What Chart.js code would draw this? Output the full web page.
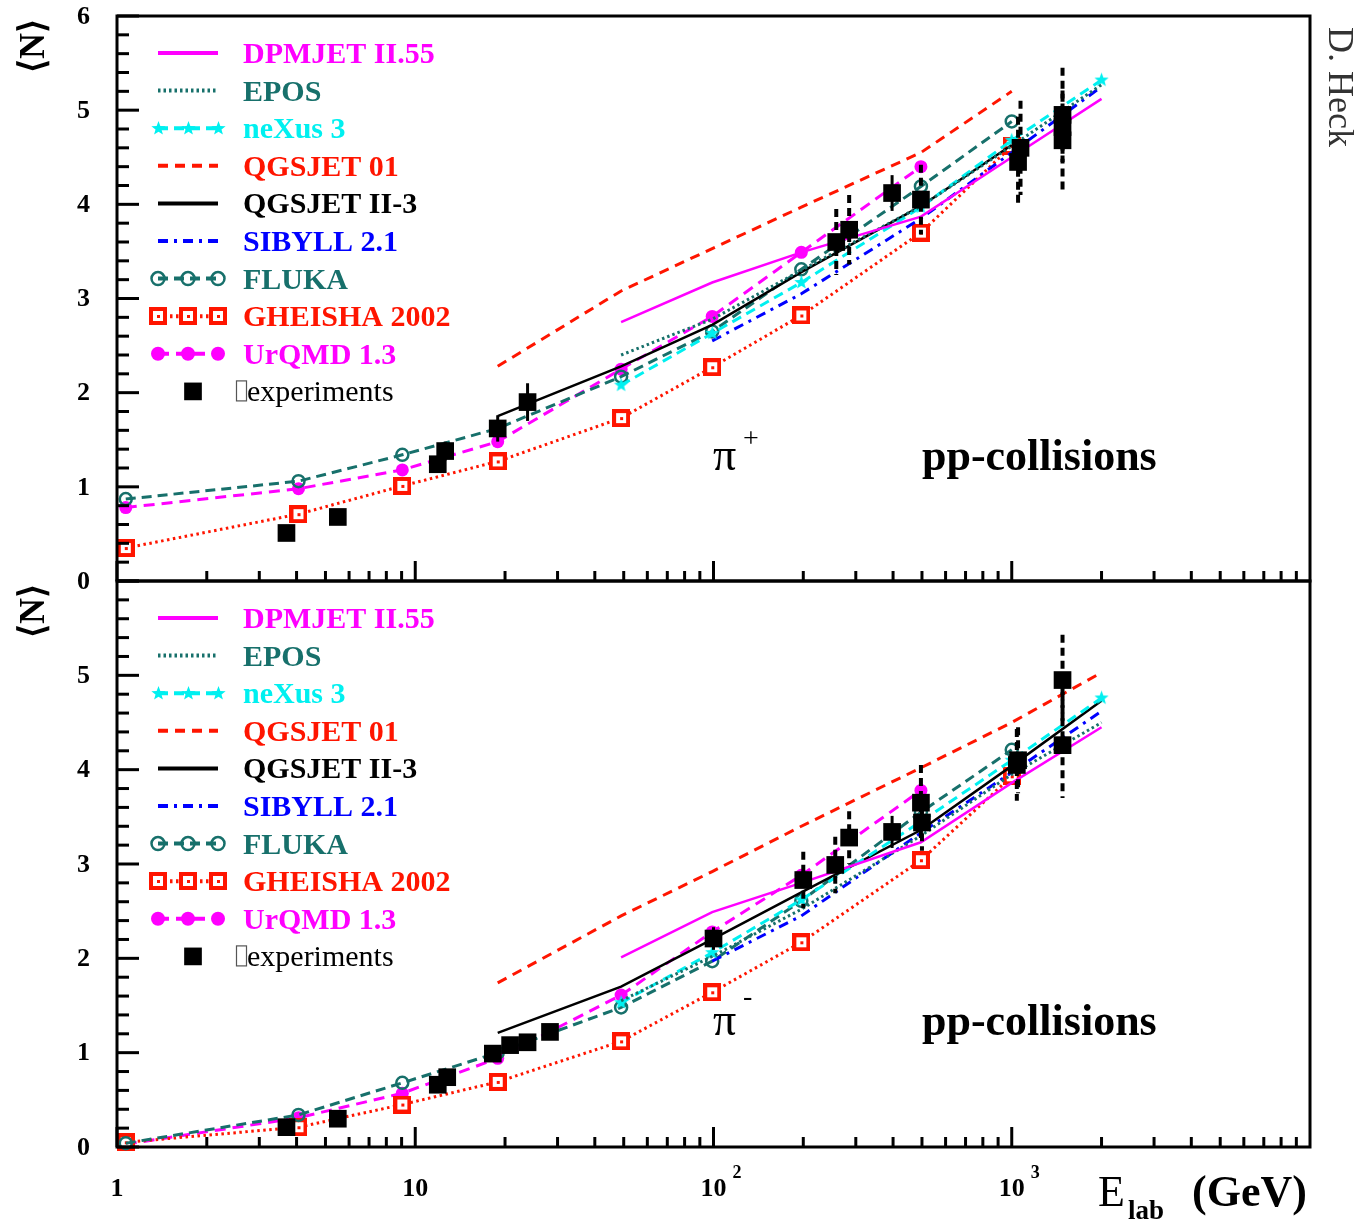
<!DOCTYPE html>
<html>
<head>
<meta charset="utf-8">
<script src="https://cdn.jsdelivr.net/npm/chart.js@4.4.1/dist/chart.umd.min.js"></script>
<style>
  html, body { margin: 0; padding: 0; background: #fff; }
  #wrap { position: relative; width: 1354px; height: 1221px; }
  #wrap canvas { position: absolute; left: 0; top: 0; }
</style>
</head>
<body>
<div id="wrap">
  <canvas id="cPlus" width="1354" height="1221"></canvas>
  <canvas id="cMinus" width="1354" height="1221"></canvas>
</div>
<script>
// ---- lab energies (GeV) at which the model curves are evaluated ----
const energies = [1.07, 4.06, 9.05, 18.9, 49, 99, 197, 496, 1000, 2000];

// ---- mean pi+ multiplicity per model ----
const piPlusDPMJET   = [null, null, null, null, 2.75, 3.17, 3.49, 3.87, 4.50, 5.12];
const piPlusEPOS     = [null, null, null, null, 2.40, 2.78, 3.30, 3.98, 4.62, 5.27];
const piPlusNeXus    = [null, null, null, null, 2.08, 2.63, 3.17, 3.97, 4.68, 5.32];
const piPlusQGSJET01 = [null, null, null, 2.28, 3.08, 3.53, 3.97, 4.55, 5.20, null];
const piPlusQGSJETII = [null, null, null, 1.75, 2.28, 2.72, 3.28, 3.98, 4.63, null];
const piPlusSIBYLL   = [null, null, null, null, null, 2.55, 3.05, 3.85, 4.55, 5.25];
const piPlusFLUKA    = [0.87, 1.06, 1.34, 1.62, 2.17, 2.65, 3.31, 4.19, 4.88, null];
const piPlusGHEISHA  = [0.35, 0.71, 1.01, 1.27, 1.73, 2.27, 2.82, 3.70, 4.62, null];
const piPlusUrQMD    = [0.78, 0.98, 1.18, 1.48, 2.25, 2.81, 3.49, 4.40, null, null];

// ---- mean pi- multiplicity per model ----
const piMinusDPMJET   = [null, null, null, null, 2.01, 2.49, 2.80, 3.23, 3.86, 4.45];
const piMinusEPOS     = [null, null, null, null, 1.55, 2.02, 2.52, 3.30, 3.95, 4.50];
const piMinusNeXus    = [null, null, null, null, 1.53, 2.06, 2.62, 3.45, 4.10, 4.76];
const piMinusQGSJET01 = [null, null, null, 1.74, 2.45, 2.92, 3.40, 4.02, 4.50, 5.03];
const piMinusQGSJETII = [null, null, null, 1.21, 1.70, 2.20, 2.70, 3.36, 4.04, 4.73];
const piMinusSIBYLL   = [null, null, null, null, null, 1.97, 2.45, 3.33, 3.97, 4.62];
const piMinusFLUKA    = [0.04, 0.34, 0.68, 1.00, 1.48, 1.97, 2.61, 3.55, 4.21, null];
const piMinusGHEISHA  = [0.05, 0.21, 0.45, 0.69, 1.12, 1.64, 2.17, 3.04, 3.93, null];
const piMinusUrQMD    = [0.03, 0.31, 0.57, 0.94, 1.61, 2.28, 2.88, 3.78, null, null];

// ---- measurements: energy, multiplicity, uncertainty, systematic flag ----
const expPlusE    = [3.7, 5.5, 11.9, 12.6, 18.9, 23.8, 258, 285, 397, 496, 1050, 1070, 1480, 1480, 1480];
const expPlusN    = [0.51, 0.68, 1.24, 1.38, 1.62, 1.90, 3.60, 3.73, 4.12, 4.05, 4.45, 4.60, 4.68, 4.82, 4.95];
const expPlusErr  = [0, 0, 0.08, 0.10, 0.14, 0.20, 0.35, 0.37, 0.19, 0.37, 0.48, 0.50, 0.53, 0, 0.50];
const expPlusSys  = [false, false, false, false, false, false, true, true, false, true, true, true, true, false, true];

const expMinusE   = [3.7, 5.5, 11.9, 12.8, 18.2, 20.8, 23.8, 28.3, 100, 200, 256, 285, 397, 496, 500, 1040, 1050, 1480, 1480];
const expMinusN   = [0.21, 0.30, 0.66, 0.74, 0.99, 1.08, 1.11, 1.22, 2.21, 2.83, 2.99, 3.28, 3.34, 3.65, 3.44, 4.05, 4.10, 4.26, 4.95];
const expMinusErr = [0, 0, 0, 0, 0, 0, 0.05, 0.06, 0.12, 0.30, 0.30, 0.28, 0.17, 0.40, 0.30, 0.38, 0.35, 0.56, 0.48];
const expMinusSys = [false, false, false, false, false, false, false, false, false, true, true, true, false, true, true, true, true, true, true];

// ---- axis ticks ----
const yTickValues = [0, 1, 2, 3, 4, 5, 6];
const xLabelValues = [1, 10, 100, 1000];
const xLabelTexts = [['1', ''], ['10', ''], ['10', '2'], ['10', '3']];

// ---- styling ----
const SERIF = '"Liberation Serif", "Times New Roman", Times, serif';
const TEAL = '#17706b';
const MAGENTA = '#ff00ff';
const CYAN = '#00f0f0';
const RED = '#ff1500';
const BLUE = '#0000ff';

function makeStar(r, color) {
  const s = Math.ceil(2 * r + 2);
  const c = document.createElement('canvas');
  c.width = s; c.height = s;
  const g = c.getContext('2d');
  g.fillStyle = color;
  g.beginPath();
  for (let i = 0; i < 10; i++) {
    const ang = -Math.PI / 2 + i * Math.PI / 5;
    const rr = i % 2 ? r * 0.42 : r;
    g.lineTo(s / 2 + rr * Math.cos(ang), s / 2 + rr * Math.sin(ang));
  }
  g.closePath();
  g.fill();
  return c;
}
function makeBoxDot(size, color) {
  const c = document.createElement('canvas');
  c.width = size; c.height = size;
  const g = c.getContext('2d');
  g.fillStyle = color;
  g.fillRect(0, 0, size, size);
  g.fillStyle = '#fff';
  g.fillRect(4, 4, size - 8, size - 8);
  g.fillStyle = color;
  const m = Math.floor(size / 2) - 1;
  g.fillRect(m, m, 3, 3);
  return c;
}
const starImg = makeStar(7.5, CYAN);
const boxImg = makeBoxDot(18, RED);

const MODEL_STYLES = [
  { label: 'DPMJET II.55', color: MAGENTA, dash: [], width: 2.5, lw: 4 },
  { label: 'EPOS', color: TEAL, dash: [2.5, 3], width: 3, lw: 4 },
  { label: 'neXus 3', color: CYAN, dash: [10, 6], width: 3, lw: 4, marker: 'star' },
  { label: 'QGSJET 01', color: RED, dash: [10, 7], width: 3, lw: 4 },
  { label: 'QGSJET II-3', color: '#000', dash: [], width: 2.5, lw: 4 },
  { label: 'SIBYLL 2.1', color: BLUE, dash: [10, 6, 3, 6], width: 3, lw: 4 },
  { label: 'FLUKA', color: TEAL, dash: [10, 6], width: 3, lw: 4, marker: 'open' },
  { label: 'GHEISHA 2002', color: RED, dash: [2.5, 3.5], width: 3, lw: 4, marker: 'box' },
  { label: 'UrQMD 1.3', color: MAGENTA, dash: [11, 7], width: 3, lw: 4, marker: 'dot' }
];

function modelDataset(style, values) {
  const pts = [];
  energies.forEach((e, i) => { if (values[i] !== null) pts.push({ x: e, y: values[i] }); });
  const ds = {
    label: style.label, data: pts, order: 1,
    borderColor: style.color, backgroundColor: style.color,
    borderWidth: style.width, borderDash: style.dash, legendWidth: style.lw,
    tension: 0, fill: false, clip: false,
    pointRadius: 0, pointHoverRadius: 0
  };
  if (style.marker === 'star') { ds.pointStyle = starImg; ds.pointRadius = 7; }
  if (style.marker === 'box') { ds.pointStyle = boxImg; ds.pointRadius = 9; }
  if (style.marker === 'open') {
    ds.pointStyle = 'circle'; ds.pointRadius = 6; ds.pointBorderWidth = 2.5;
    ds.pointBorderColor = style.color; ds.pointBackgroundColor = 'rgba(0,0,0,0)';
  }
  if (style.marker === 'dot') {
    ds.pointStyle = 'circle'; ds.pointRadius = 6.5; ds.pointBorderWidth = 0;
    ds.pointBackgroundColor = style.color;
  }
  return ds;
}

function expDataset(es, ns, errs, sys) {
  return {
    label: 'experiments', isExp: true, order: 0,
    data: es.map((e, i) => ({ x: e, y: ns[i] })),
    errors: errs, sys: sys,
    showLine: false, clip: false,
    pointStyle: 'rect', pointRadius: 12.5, pointHoverRadius: 12.5,
    pointBackgroundColor: '#000', pointBorderWidth: 0, borderColor: '#000', backgroundColor: '#000'
  };
}

function seg(ctx, x1, y1, x2, y2) {
  ctx.beginPath(); ctx.moveTo(x1, y1); ctx.lineTo(x2, y2); ctx.stroke();
}

function legendMarker(ctx, ds, x, y) {
  const st = ds.pointStyle;
  if (st instanceof HTMLCanvasElement) {
    ctx.drawImage(st, Math.round(x - st.width / 2), Math.round(y - st.height / 2));
  } else if (st === 'circle') {
    ctx.beginPath();
    ctx.arc(x, y, ds.pointRadius + 0.5, 0, 2 * Math.PI);
    if (ds.pointBorderWidth) {
      ctx.lineWidth = ds.pointBorderWidth; ctx.strokeStyle = ds.pointBorderColor; ctx.stroke();
    } else {
      ctx.fillStyle = ds.pointBackgroundColor; ctx.fill();
    }
  } else if (st === 'rect') {
    const s = ds.pointRadius * Math.SQRT1_2;
    ctx.fillStyle = '#000';
    ctx.fillRect(x - s, y - s, 2 * s, 2 * s);
  }
}

const panelDecor = {
  id: 'panelDecor',
  afterDatasetsDraw(chart, args, opts) {
    const { ctx, chartArea: a } = chart;
    const xs = chart.scales.x, ys = chart.scales.y;
    ctx.save();

    // error bars of the measurements
    chart.data.datasets.forEach((ds, di) => {
      if (!ds.isExp) return;
      const meta = chart.getDatasetMeta(di);
      ctx.strokeStyle = '#000';
      ds.errors.forEach((err, i) => {
        if (!err) return;
        const px = meta.data[i].x;
        const v = ds.data[i].y;
        ctx.lineWidth = ds.sys[i] ? 4 : 3;
        ctx.setLineDash(ds.sys[i] ? [8, 5] : []);
        seg(ctx, px, ys.getPixelForValue(v + err), px, ys.getPixelForValue(v - err));
      });
    });
    ctx.setLineDash([]);

    // frame
    ctx.strokeStyle = '#000';
    ctx.lineWidth = 3;
    ctx.strokeRect(a.left, a.top, a.right - a.left, a.bottom - a.top);

    // inward ticks on the left axis
    ctx.lineWidth = 3;
    for (let i = 0; i <= 30; i++) {
      const py = ys.getPixelForValue(i / 5);
      seg(ctx, a.left, py, a.left + (i % 5 === 0 ? 22 : 12), py);
    }
    // inward ticks on the bottom axis
    for (let d = 0; d < 4; d++) {
      for (let k = 1; k <= 9; k++) {
        const px = xs.getPixelForValue(k * Math.pow(10, d));
        seg(ctx, px, a.bottom, px, a.bottom - (k === 1 ? 20 : 10));
      }
    }

    // y tick labels
    ctx.fillStyle = '#000';
    ctx.font = 'bold 26px ' + SERIF;
    ctx.textAlign = 'right'; ctx.textBaseline = 'middle';
    yTickValues.forEach(v => {
      if (opts.hideTopLabel && v === 6) return;
      ctx.fillText(String(v), a.left - 27, ys.getPixelForValue(v) + 1);
    });

    // legend
    chart.data.datasets.forEach((ds, i) => {
      const ry = a.top + 37 + i * 37.6;
      const x0 = a.left + 41, x1 = a.left + 101;
      if (ds.isExp) {
        legendMarker(ctx, ds, a.left + 76, ry);
        ctx.lineWidth = 1.2; ctx.strokeStyle = '#555';
        ctx.strokeRect(a.left + 119.5, ry - 10.5, 10, 20);
        ctx.fillStyle = '#000';
        ctx.font = '30px ' + SERIF;
        ctx.textAlign = 'left'; ctx.textBaseline = 'alphabetic';
        ctx.fillText(ds.label, a.left + 130, ry + 10);
        return;
      }
      ctx.strokeStyle = ds.borderColor;
      ctx.lineWidth = ds.legendWidth;
      ctx.setLineDash(ds.borderDash);
      seg(ctx, x0, ry, x1, ry);
      ctx.setLineDash([]);
      if (ds.pointRadius > 0) {
        [x0, x0 + 30, x0 + 60].forEach(mx => legendMarker(ctx, ds, mx, ry));
      }
      ctx.fillStyle = ds.borderColor;
      ctx.font = 'bold 30px ' + SERIF;
      ctx.textAlign = 'left'; ctx.textBaseline = 'alphabetic';
      ctx.fillText(ds.label, a.left + 126, ry + 10);
    });

    // particle label and collision system
    ctx.fillStyle = '#000';
    ctx.textAlign = 'left'; ctx.textBaseline = 'alphabetic';
    ctx.font = '46px ' + SERIF;
    ctx.fillText('\u03C0', a.left + 596, a.top + 454);
    ctx.font = '28px ' + SERIF;
    ctx.fillText(opts.charge, a.left + 626, a.top + (opts.charge === '+' ? 431 : 424));
    ctx.font = 'bold 44px ' + SERIF;
    ctx.fillText('pp-collisions', a.left + 805, a.top + 454);

    // y-axis title
    ctx.save();
    ctx.translate(35, a.top + 30);
    ctx.rotate(-Math.PI / 2);
    ctx.textAlign = 'center'; ctx.textBaseline = 'middle';
    ctx.font = 'bold 36px ' + SERIF;
    ctx.fillText('\u27E8N\u27E9', 0, 0);
    ctx.restore();

    if (opts.author) {
      ctx.save();
      ctx.translate(1338, 87);
      ctx.rotate(Math.PI / 2);
      ctx.textAlign = 'center'; ctx.textBaseline = 'middle';
      ctx.fillStyle = '#333';
      ctx.font = '36px ' + SERIF;
      ctx.fillText('D. Heck', 0, 0);
      ctx.restore();
    }

    if (opts.xLabels) {
      ctx.fillStyle = '#000';
      xLabelValues.forEach((v, i) => {
        const px = xs.getPixelForValue(v);
        const [base, sup] = xLabelTexts[i];
        ctx.font = 'bold 26px ' + SERIF;
        ctx.textAlign = 'center'; ctx.textBaseline = 'alphabetic';
        ctx.fillText(base, px, a.bottom + 49);
        if (sup) {
          const w = ctx.measureText(base).width;
          ctx.font = 'bold 18px ' + SERIF;
          ctx.textAlign = 'left';
          ctx.fillText(sup, px + w / 2 + 6, a.bottom + 31);
        }
      });
      ctx.textAlign = 'left';
      ctx.font = '44px ' + SERIF;
      ctx.fillText('E', 1098, a.bottom + 59);
      ctx.font = 'bold 27px ' + SERIF;
      ctx.fillText('lab', 1128, a.bottom + 72);
      ctx.font = 'bold 44px ' + SERIF;
      ctx.fillText('(GeV)', 1192, a.bottom + 59);
    }
    ctx.restore();
  }
};

function buildChart(canvasId, series, exp, pad, opts) {
  const datasets = MODEL_STYLES.map((st, i) => modelDataset(st, series[i]));
  datasets.push(exp);
  return new Chart(document.getElementById(canvasId), {
    type: 'line',
    data: { datasets },
    options: {
      responsive: false, animation: false, events: [],
      devicePixelRatio: 1,
      layout: { padding: pad },
      plugins: { legend: { display: false }, tooltip: { enabled: false }, panelDecor: opts },
      scales: {
        x: { type: 'logarithmic', min: 1, max: 10000, display: false },
        y: {
          type: 'linear', min: 0, max: 6,
          grid: { display: false }, border: { display: false },
          ticks: { display: false },
          afterFit: s => { s.width = 117; }
        }
      }
    },
    plugins: [panelDecor]
  });
}

buildChart('cPlus',
  [piPlusDPMJET, piPlusEPOS, piPlusNeXus, piPlusQGSJET01, piPlusQGSJETII, piPlusSIBYLL, piPlusFLUKA, piPlusGHEISHA, piPlusUrQMD],
  expDataset(expPlusE, expPlusN, expPlusErr, expPlusSys),
  { left: 0, right: 44, top: 16, bottom: 640 },
  { charge: '+', author: true, xLabels: false, hideTopLabel: false });

buildChart('cMinus',
  [piMinusDPMJET, piMinusEPOS, piMinusNeXus, piMinusQGSJET01, piMinusQGSJETII, piMinusSIBYLL, piMinusFLUKA, piMinusGHEISHA, piMinusUrQMD],
  expDataset(expMinusE, expMinusN, expMinusErr, expMinusSys),
  { left: 0, right: 44, top: 581, bottom: 74 },
  { charge: '-', author: false, xLabels: true, hideTopLabel: true });
</script>
</body>
</html>
